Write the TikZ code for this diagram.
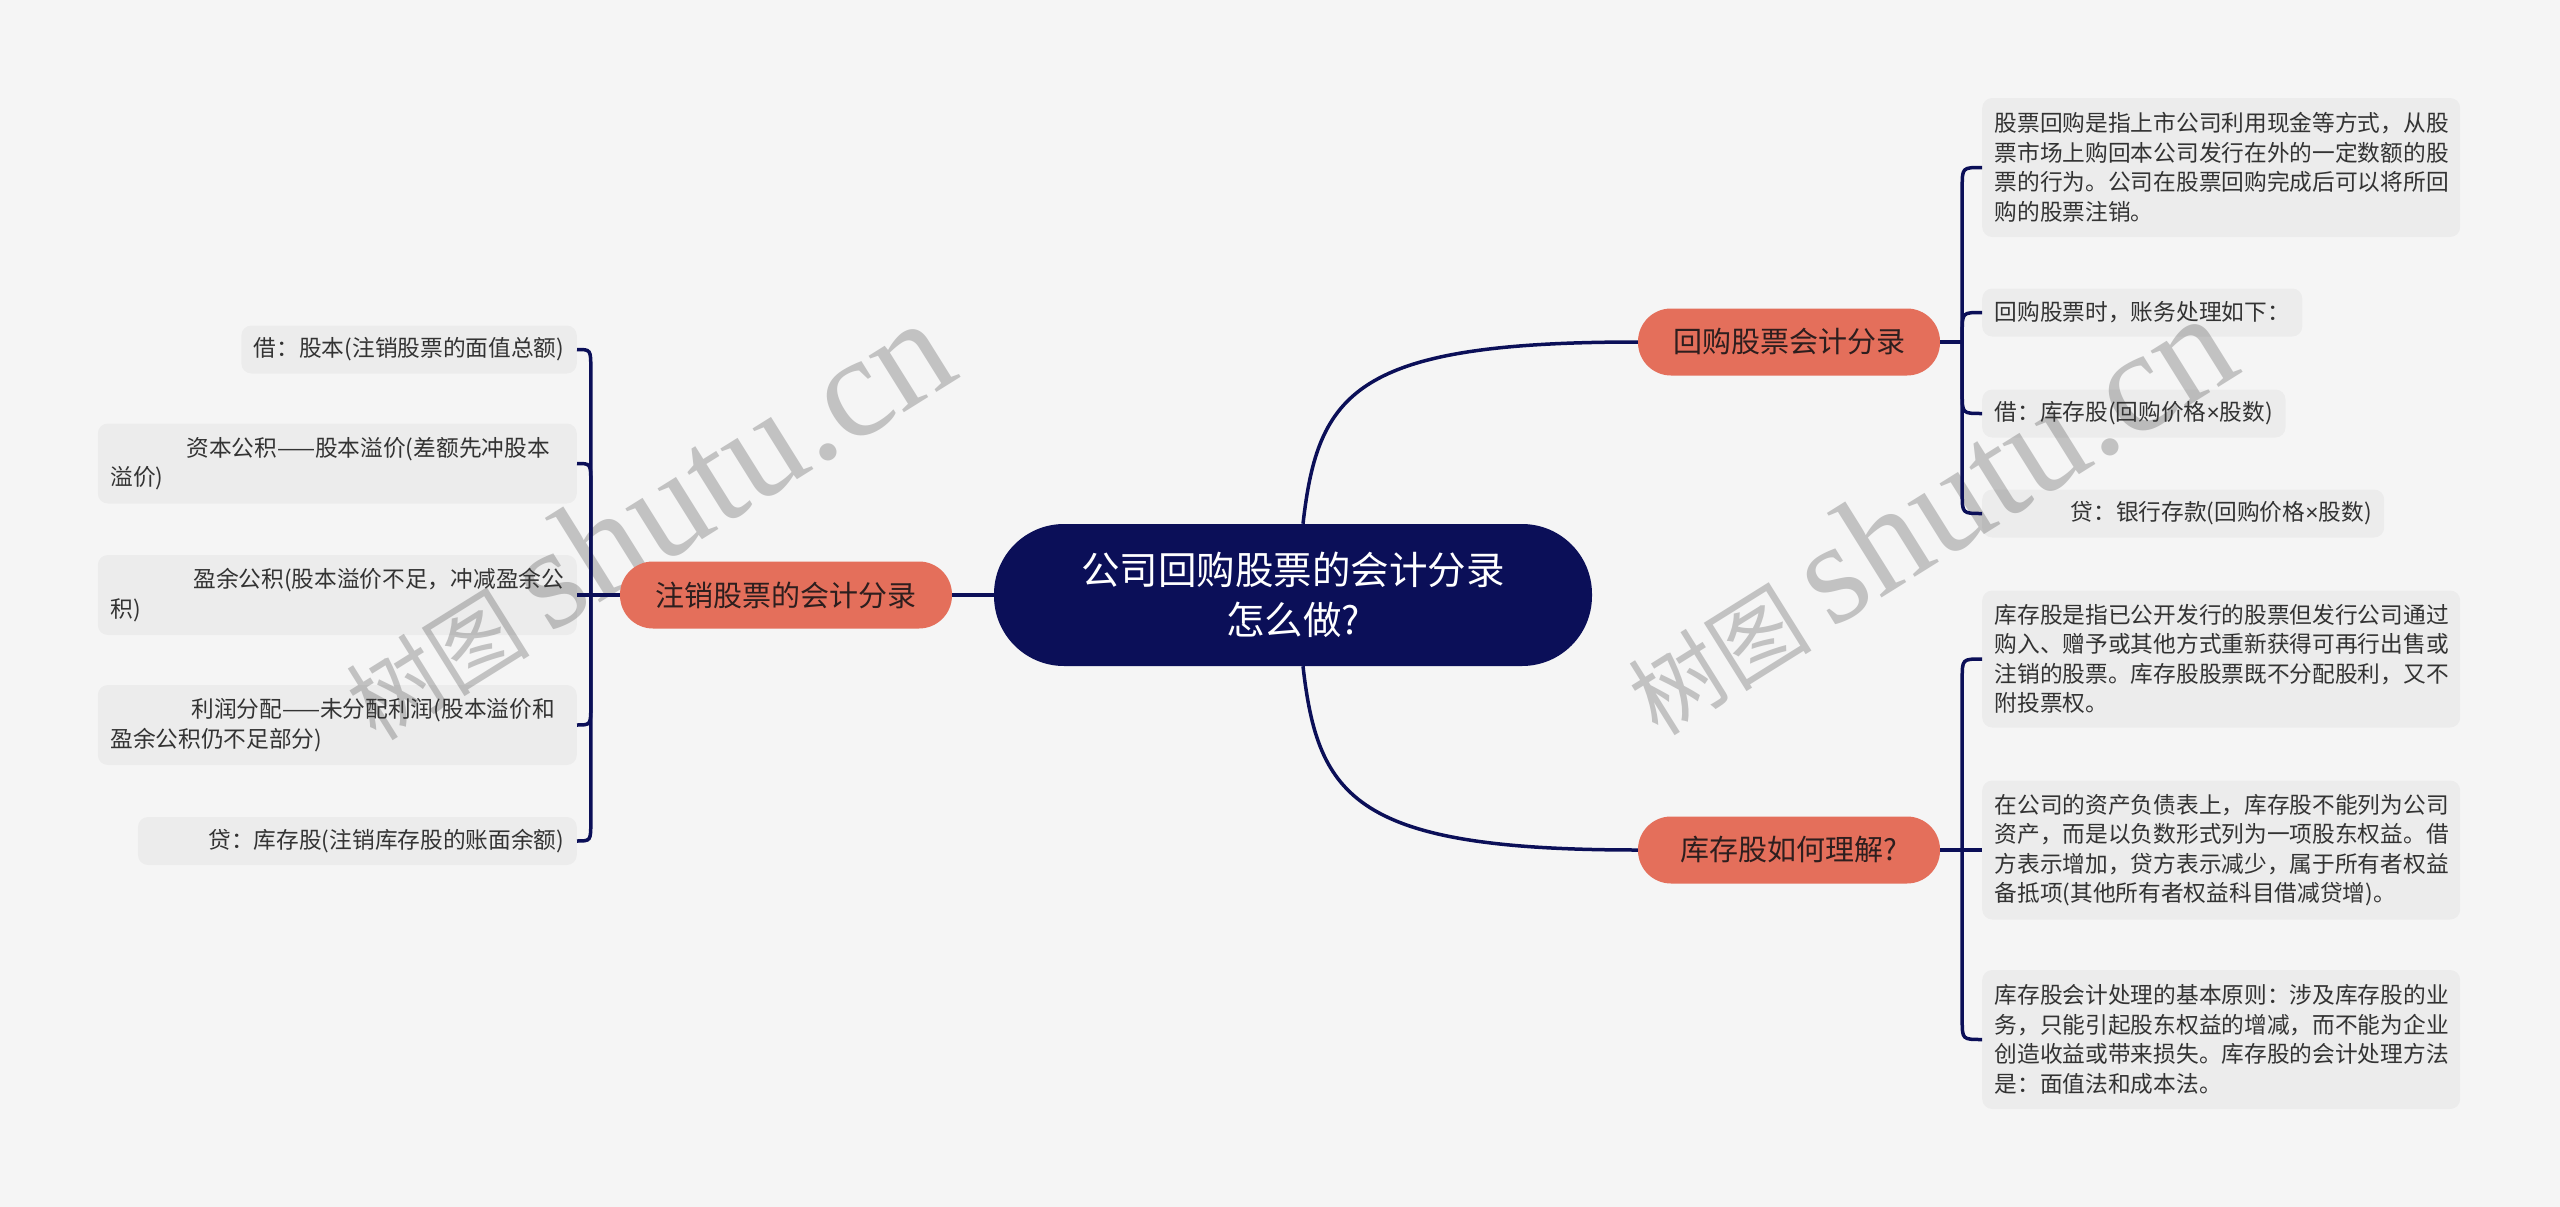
\documentclass[tikz,border=0pt]{standalone}
\usepackage{fontspec}
\setmainfont{Noto Sans CJK SC}
\newfontfamily\wmcjk{Noto Sans CJK SC}
\newfontfamily\wmlat{Liberation Serif}
\newfontfamily\latsans{Liberation Sans}
\newcommand{\mytimes}{{\latsans ×}}
\usetikzlibrary{calc}
\definecolor{bgc}{HTML}{F5F5F5}
\definecolor{navy}{RGB}{11,15,88}
\definecolor{salmon}{RGB}{228,111,91}
\definecolor{leaftext}{HTML}{333333}
\definecolor{branchtext}{RGB}{45,30,30}
\definecolor{wm}{RGB}{194,194,194}
\tikzset{
  rootnode/.style={fill=navy, text=white, rounded corners=70pt, minimum width=598pt, minimum height=142pt, align=center, font=\fontsize{38.5pt}{50.5pt}\selectfont, inner sep=0pt},
  branchnode/.style={fill=salmon, text=branchtext, rounded corners=33pt, minimum height=67pt, font=\fontsize{29pt}{35pt}\selectfont, inner sep=0pt},
  leaf/.style={fill=black, fill opacity=0.035, text opacity=1, text=leaftext, rounded corners=10pt, minimum height=48pt, inner xsep=12.5pt, inner ysep=0pt, align=left, font=\fontsize{22.7pt}{29.5pt}\selectfont},
  conn/.style={draw=navy, line width=3.5pt},
  wmark/.style={rotate=32, text=wm, inner sep=0pt},
}
\begin{document}
\begin{tikzpicture}[x=1pt,y=-1pt]
\fill[bgc] (0,0) rectangle (2560,1207);
\useasboundingbox (0,0) rectangle (2560,1207);

% watermarks
\node[wmark] (wm1) at (645,520) {\fontsize{92pt}{92pt}\wmcjk 树图 \fontsize{145pt}{145pt}\wmlat shutu.cn};
\node[wmark] (wm2) at (1927,515) {\fontsize{92pt}{92pt}\wmcjk 树图 \fontsize{145pt}{145pt}\wmlat shutu.cn};

% root and branches
\node[rootnode] (root) at (1293,595) {公司回购股票的会计分录\\怎么做?};
\node[branchnode, minimum width=302pt] (b1) at (1789,342) {回购股票会计分录};
\node[branchnode, minimum width=302pt] (b2) at (1789,850) {库存股如何理解?};
\node[branchnode, minimum width=332pt] (b3) at (786,595) {注销股票的会计分录};

% right leaves, group 1
\node[leaf, anchor=west, text width=453pt, minimum height=139pt] (r1) at (1982,167.5) {股票回购是指上市公司利用现金等方式，从股\\票市场上购回本公司发行在外的一定数额的股\\票的行为。公司在股票回购完成后可以将所回\\购的股票注销。};
\node[leaf, anchor=west] (r2) at (1982,312.5) {回购股票时，账务处理如下：};
\node[leaf, anchor=west] (r3) at (1982,413.5) {借：库存股(回购价格\mytimes 股数)};
\node[leaf, anchor=west] (r4) at (1982,513.5) {\hspace*{76pt}贷：银行存款(回购价格\mytimes 股数)};

% right leaves, group 2
\node[leaf, anchor=west, text width=453pt, minimum height=137pt] (r5) at (1982,659) {库存股是指已公开发行的股票但发行公司通过\\购入、赠予或其他方式重新获得可再行出售或\\注销的股票。库存股股票既不分配股利，又不\\附投票权。};
\node[leaf, anchor=west, text width=453pt, minimum height=139pt] (r6) at (1982,850) {在公司的资产负债表上，库存股不能列为公司\\资产，而是以负数形式列为一项股东权益。借\\方表示增加，贷方表示减少，属于所有者权益\\备抵项(其他所有者权益科目借减贷增)。};
\node[leaf, anchor=west, text width=453pt, minimum height=139pt] (r7) at (1982,1039.5) {库存股会计处理的基本原则：涉及库存股的业\\务，只能引起股东权益的增减，而不能为企业\\创造收益或带来损失。库存股的会计处理方法\\是：面值法和成本法。};

% left leaves
\node[leaf, anchor=east] (l1) at (577,349.5) {借：股本(注销股票的面值总额)};
\node[leaf, anchor=east, text width=454pt, minimum height=80pt] (l2) at (577,463.5) {\hspace*{76pt}资本公积——股本溢价(差额先冲股本\\溢价)};
\node[leaf, anchor=east, text width=454pt, minimum height=80pt] (l3) at (577,595) {\hspace*{83pt}盈余公积(股本溢价不足，冲减盈余公\\积)};
\node[leaf, anchor=east, text width=454pt, minimum height=80pt] (l4) at (577,725) {\hspace*{81pt}利润分配——未分配利润(股本溢价和\\盈余公积仍不足部分)};
\node[leaf, anchor=east] (l5) at (577,841) {\hspace*{58pt}贷：库存股(注销库存股的账面余额)};

% junctions
\coordinate (j1) at ($(b1.east)+(22,0)$);
\coordinate (j2) at ($(b2.east)+(22,0)$);
\coordinate (j3) at ($(b3.west)+(-29,0)$);
\coordinate (rt) at ($(root.north)+(10,0)$);
\coordinate (rb) at ($(root.south)+(10,0)$);

% root connectors
\draw[conn] (rt) .. controls ($(rt)+(15,-132)$) and ($(b1.west)+(-283,0)$) .. (b1.west);
\draw[conn] (rb) .. controls ($(rb)+(15,132)$) and ($(b2.west)+(-283,0)$) .. (b2.west);
\draw[conn] (root.west) -- (b3.east);

% group 1
\draw[conn] (b1.east) -- (j1);
\draw[conn] (j1) -- ($(j1 |- r1.west)+(0,20)$) .. controls (j1 |- r1.west) .. (r1.west);
\draw[conn] (j1) -- ($(j1 |- r2.west)+(0,20)$) .. controls (j1 |- r2.west) .. (r2.west);
\draw[conn] (j1) -- ($(j1 |- r3.west)+(0,-20)$) .. controls (j1 |- r3.west) .. (r3.west);
\draw[conn] (j1) -- ($(j1 |- r4.west)+(0,-20)$) .. controls (j1 |- r4.west) .. (r4.west);

% group 2
\draw[conn] (b2.east) -- (j2);
\draw[conn] (j2) -- ($(j2 |- r5.west)+(0,20)$) .. controls (j2 |- r5.west) .. (r5.west);
\draw[conn] (j2) -- (r6.west);
\draw[conn] (j2) -- ($(j2 |- r7.west)+(0,-20)$) .. controls (j2 |- r7.west) .. (r7.west);

% left group
\draw[conn] (b3.west) -- (j3);
\draw[conn] (j3) -- ($(j3 |- l1.east)+(0,20)$) .. controls (j3 |- l1.east) .. (l1.east);
\draw[conn] (j3) -- ($(j3 |- l2.east)+(0,20)$) .. controls (j3 |- l2.east) .. (l2.east);
\draw[conn] (j3) -- (l3.east);
\draw[conn] (j3) -- ($(j3 |- l4.east)+(0,-20)$) .. controls (j3 |- l4.east) .. (l4.east);
\draw[conn] (j3) -- ($(j3 |- l5.east)+(0,-20)$) .. controls (j3 |- l5.east) .. (l5.east);
\end{tikzpicture}
\end{document}
